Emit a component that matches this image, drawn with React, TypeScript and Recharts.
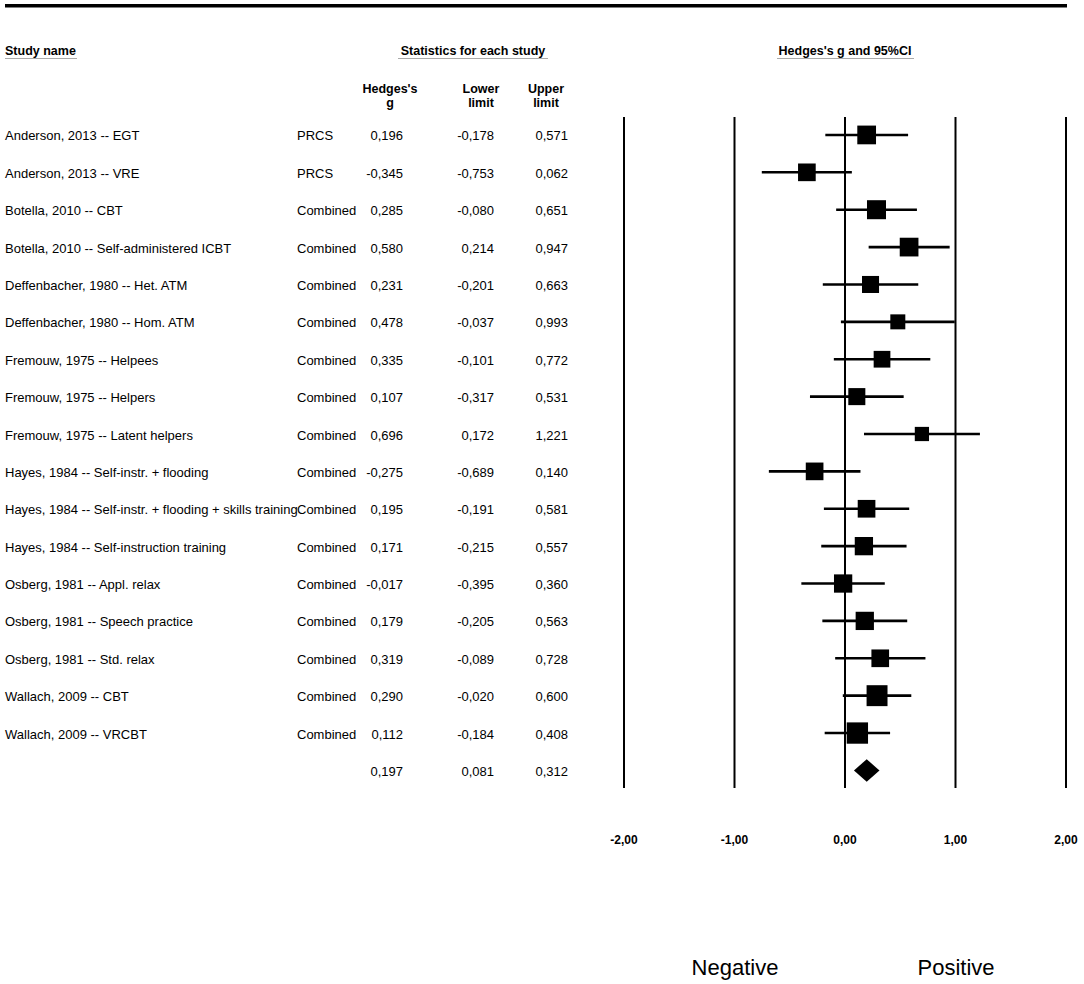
import React from "react";
import {
  ScatterChart,
  Scatter,
  XAxis,
  YAxis,
  CartesianGrid,
  ErrorBar,
  ReferenceArea,
} from "recharts";

const studyNames = [
  "Anderson, 2013 -- EGT",
  "Anderson, 2013 -- VRE",
  "Botella, 2010 -- CBT",
  "Botella, 2010 -- Self-administered ICBT",
  "Deffenbacher, 1980 -- Het. ATM",
  "Deffenbacher, 1980 -- Hom. ATM",
  "Fremouw, 1975 -- Helpees",
  "Fremouw, 1975 -- Helpers",
  "Fremouw, 1975 -- Latent helpers",
  "Hayes, 1984 -- Self-instr. + flooding",
  "Hayes, 1984 -- Self-instr. + flooding + skills training",
  "Hayes, 1984 -- Self-instruction training",
  "Osberg, 1981 -- Appl. relax",
  "Osberg, 1981 -- Speech practice",
  "Osberg, 1981 -- Std. relax",
  "Wallach, 2009 -- CBT",
  "Wallach, 2009 -- VRCBT",
];

const subgroups = [
  "PRCS", "PRCS", "Combined", "Combined", "Combined", "Combined", "Combined",
  "Combined", "Combined", "Combined", "Combined", "Combined", "Combined",
  "Combined", "Combined", "Combined", "Combined",
];

const hedgesG = [
  0.196, -0.345, 0.285, 0.58, 0.231, 0.478, 0.335, 0.107, 0.696, -0.275,
  0.195, 0.171, -0.017, 0.179, 0.319, 0.29, 0.112,
];
const lowerLimit = [
  -0.178, -0.753, -0.08, 0.214, -0.201, -0.037, -0.101, -0.317, 0.172, -0.689,
  -0.191, -0.215, -0.395, -0.205, -0.089, -0.02, -0.184,
];
const upperLimit = [
  0.571, 0.062, 0.651, 0.947, 0.663, 0.993, 0.772, 0.531, 1.221, 0.14, 0.581,
  0.557, 0.36, 0.563, 0.728, 0.6, 0.408,
];
// relative weights (%)
const weights = [
  6.4, 5.7, 6.6, 6.4, 5.3, 4.1, 5.1, 5.3, 3.7, 5.7, 5.7, 6.1, 6.1, 6.1, 5.7,
  8.0, 8.3,
];

// combined effect: g, lower, upper
const summaryStats = [0.197, 0.081, 0.312];

const xTicks = [-2, -1, 0, 1, 2];

const summaryRow = studyNames.length;
const rowTicks = [...studyNames.map((_, i) => i), summaryRow];

const data = studyNames.map((name, i) => ({
  row: i,
  name,
  g: hedgesG[i],
  err: [hedgesG[i] - lowerLimit[i], upperLimit[i] - hedgesG[i]],
  weight: weights[i],
}));

const FONT = "'Liberation Sans', Arial, Helvetica, sans-serif";
const fmt = (v: number) => v.toFixed(3).replace(".", ",");

const RowTick = (props: any) => {
  const { y, payload } = props;
  const i = payload.value as number;
  const isSummary = i === summaryRow;
  const g = isSummary ? summaryStats[0] : hedgesG[i];
  const lo = isSummary ? summaryStats[1] : lowerLimit[i];
  const hi = isSummary ? summaryStats[2] : upperLimit[i];
  const ty = y + 1;
  return (
    <g fontFamily={FONT} fontSize={13} fill="#000">
      {!isSummary && (
        <text x={5} y={ty} dy="0.35em">
          {studyNames[i]}
        </text>
      )}
      {!isSummary && (
        <text x={297} y={ty} dy="0.35em">
          {subgroups[i]}
        </text>
      )}
      <text x={403} y={ty} dy="0.35em" textAnchor="end">
        {fmt(g)}
      </text>
      <text x={494} y={ty} dy="0.35em" textAnchor="end">
        {fmt(lo)}
      </text>
      <text x={568} y={ty} dy="0.35em" textAnchor="end">
        {fmt(hi)}
      </text>
    </g>
  );
};

const AxisTick = (props: any) => {
  const { x, y, payload } = props;
  return (
    <text
      x={x}
      y={y + 48}
      textAnchor="middle"
      fontFamily={FONT}
      fontSize={12}
      fontWeight="bold"
      fill="#000"
    >
      {Number(payload.value).toFixed(2).replace(".", ",")}
    </text>
  );
};

const StudySquare = (props: any) => {
  const { cx, cy, payload } = props;
  const s = 7.4 * Math.sqrt(payload.weight);
  return <rect x={cx - s / 2} y={cy - s / 2} width={s} height={s} fill="#000" />;
};

const Diamond = (props: any) => {
  const { x, y, width, height } = props;
  const mx = x + width / 2;
  const my = y + height / 2;
  return (
    <polygon
      points={`${x},${my} ${mx},${y} ${x + width},${my} ${mx},${y + height}`}
      fill="#000"
    />
  );
};

const Headers = () => (
  <svg
    width={1084}
    height={984}
    style={{ position: "absolute", left: 0, top: 0, pointerEvents: "none" }}
    fontFamily={FONT}
  >
    <line x1={5} x2={1067} y1={5.7} y2={5.7} stroke="#000" strokeWidth={3.5} />
    <g fontSize={12.5} fontWeight="bold" fill="#000">
      <text x={5} y={55}>Study name</text>
      <text x={473} y={55} textAnchor="middle">Statistics for each study</text>
      <text x={845} y={55} textAnchor="middle">Hedges's g and 95%CI</text>
      <text x={390} y={93} textAnchor="middle">Hedges's</text>
      <text x={390} y={107} textAnchor="middle">g</text>
      <text x={481} y={93} textAnchor="middle">Lower</text>
      <text x={481} y={107} textAnchor="middle">limit</text>
      <text x={546} y={93} textAnchor="middle">Upper</text>
      <text x={546} y={107} textAnchor="middle">limit</text>
    </g>
    <g stroke="#aaa" strokeWidth={1.2}>
      <line x1={5} x2={77} y1={58.5} y2={58.5} />
      <line x1={398} x2={548} y1={58.5} y2={58.5} />
      <line x1={777} x2={914} y1={58.5} y2={58.5} />
    </g>
    <g fontSize={22} fill="#000">
      <text x={735} y={975} textAnchor="middle">Negative</text>
      <text x={956} y={975} textAnchor="middle">Positive</text>
    </g>
  </svg>
);

export default function App() {
  return (
    <div
      style={{
        position: "absolute",
        left: 0,
        top: 0,
        width: 1084,
        height: 984,
        background: "#fff",
      }}
    >
      <ScatterChart
        width={1084}
        height={984}
        margin={{ top: 117, right: 18, bottom: 166, left: 0 }}
      >
        <CartesianGrid
          vertical
          horizontal={false}
          stroke="#000"
          strokeWidth={2}
        />
        <XAxis
          type="number"
          dataKey="g"
          domain={[-2, 2]}
          ticks={xTicks}
          allowDataOverflow
          axisLine={false}
          tickLine={false}
          tick={<AxisTick />}
          height={30}
        />
        <YAxis
          type="number"
          dataKey="row"
          domain={[-0.48, 17.47]}
          ticks={rowTicks}
          interval={0}
          reversed
          allowDataOverflow
          axisLine={false}
          tickLine={false}
          tick={<RowTick />}
          width={624}
        />
        <Scatter data={data} shape={<StudySquare />} isAnimationActive={false}>
          <ErrorBar
            dataKey="err"
            direction="x"
            width={0}
            stroke="#000"
            strokeWidth={2.6}
            isAnimationActive={false}
          />
        </Scatter>
        <ReferenceArea
          x1={summaryStats[1]}
          x2={summaryStats[2]}
          y1={summaryRow - 0.3}
          y2={summaryRow + 0.3}
          shape={<Diamond />}
          ifOverflow="visible"
        />
      </ScatterChart>
      <Headers />
    </div>
  );
}
